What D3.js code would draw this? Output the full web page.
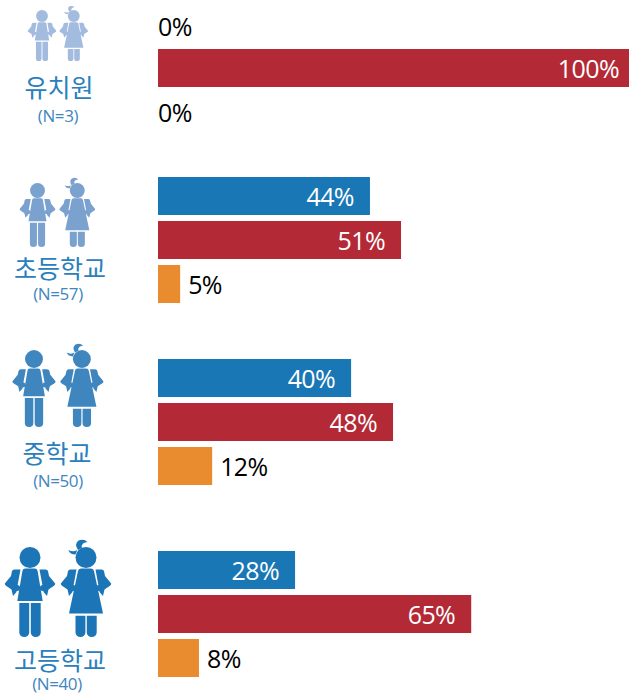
<!DOCTYPE html>
<meta charset="utf-8">
<title>School levels</title>
<style>
html, body { margin: 0; background: #fff; }
svg { display: block; }
.name { font-family: "Noto Sans CJK KR", sans-serif; font-size: 25px; fill: #2a80bd; text-anchor: middle; }
.count { font-family: "Open Sans", sans-serif; font-size: 17px; fill: #3f86bf; text-anchor: middle; letter-spacing: -0.4px; }
.value { font-family: "Open Sans", sans-serif; font-size: 25px; letter-spacing: -0.6px; }
</style>
<svg width="629" height="693"></svg>
<script src="https://cdn.jsdelivr.net/npm/d3@7"></script>
<script>

var groups = ["유치원", "초등학교", "중학교", "고등학교"];
var counts = ["(N=3)", "(N=57)", "(N=50)", "(N=40)"];

// printed percentages
var blueLabels = [0, 44, 40, 28];
var redLabels = [100, 51, 48, 65];
var orangeLabels = [0, 5, 12, 8];

// bar lengths as drawn, they run a little off the printed numbers
var blueLengths = [0, 45, 41, 29.1];
var redLengths = [100, 51.6, 49.9, 66.5];
var orangeLengths = [0, 4.7, 11.5, 8.7];

var seriesLabels = [blueLabels, redLabels, orangeLabels];
var seriesLengths = [blueLengths, redLengths, orangeLengths];
var seriesColors = ["#1a77b5", "#b42936", "#e98c2f"];

// layout
var groupTops = [5, 177, 359, 551];
var iconX = [42, 37.5, 34, 30];
var iconY = [10, 183, 350, 547];
var iconScale = [0.567, 0.71, 0.855, 1];
var iconColor = ["#a3bbdf", "#7ba1cf", "#3f86bf", "#1b75b6"];
var nameX = [59, 60, 57, 60];
var nameY = [97, 278, 463, 670];
var countX = [58, 58, 58, 57];
var countY = [122, 300, 487, 690];

var svg = d3.select("svg");

var x = d3.scaleLinear().domain([0, 100]).range([158, 629]);
var groupY = d3.scaleOrdinal().domain(groups).range(groupTops);
var rowY = d3.scalePoint().domain([0, 1, 2]).range([0, 88]);

var rows = [];
groups.forEach(function(g, i) {
  seriesLabels.forEach(function(s, j) {
    rows.push({group: g, series: j, label: s[i], length: seriesLengths[j][i]});
  });
});

var rowG = svg.selectAll(".row")
    .data(rows)
  .enter().append("g")
    .attr("class", "row")
    .attr("transform", function(d) { return "translate(0," + (groupY(d.group) + rowY(d.series)) + ")"; });

rowG.filter(function(d) { return d.length > 0; }).append("rect")
    .attr("x", x(0))
    .attr("width", function(d) { return x(d.length) - x(0); })
    .attr("height", 38)
    .attr("fill", function(d) { return seriesColors[d.series]; });

// long bars carry the label inside in white, short ones beside the bar in black
rowG.append("text")
    .attr("class", "value")
    .attr("y", function(d) { return d.label == 0 && d.series == 0 ? 31 : 29; })
    .attr("x", function(d) {
      if (d.label == 100) return 619;
      if (d.label == 0) return x(0);
      return d.label > 20 ? x(d.length) - 16 : x(d.length) + 8;
    })
    .attr("text-anchor", function(d) { return d.label > 20 ? "end" : "start"; })
    .attr("fill", function(d) { return d.label > 20 ? "#fff" : "#000"; })
    .text(function(d) { return d.label + "%"; });

// figures drawn with origin at the top centre of the boy
var torso = "M-5,21.5 L5,21.5 Q7.3,21.5 7.6,24 L12.7,54 L-12.7,54 L-7.6,24 Q-7.3,21.5 -5,21.5Z";
var arm = "M-9.5,22.5 L-15.5,22.5 Q-18,22.5 -18.3,25.5 L-19,29 L-25.2,36.5 Q-25.2,38 -24,38.8 L-18.5,42.5 L-17,49 L-13.5,45 L-12.2,37 Z";
var legs = "M-10.7,56 L-0.8,56 L-0.8,85.5 A4.95,4.6 0 0 1 -10.7,85.5Z M0.8,56 L10.7,56 L10.7,85.5 A4.95,4.6 0 0 1 0.8,85.5Z";
var dress = "M-5,21.5 L5,21.5 Q7.6,21.5 8,24 L17,66.5 L-17,66.5 L-8,24 Q-7.6,21.5 -5,21.5Z";
var girlLegs = "M-10.5,68.8 L-0.6,68.8 L-0.6,85.5 A4.95,4.6 0 0 1 -10.5,85.5Z M0.8,68.8 L10.7,68.8 L10.7,85.5 A4.95,4.6 0 0 1 0.8,85.5Z";
var bun = "M-8,3 Q-12,-3 -7.5,-6.5 Q-2,-8.5 1.5,-5 Q-1,-5 -3,-3.5 Q-5,-1.5 -4,1Z M-8.7,3 Q-13,5.5 -17.7,3 Q-16,7.5 -10.5,7.5Z";

function drawHands(sel) {
  sel.append("circle").attr("cx", -12.8).attr("cy", 41).attr("r", 2.9);
  sel.append("circle").attr("cx", 12.8).attr("cy", 41).attr("r", 2.9);
}

var icon = svg.selectAll(".icon")
    .data(groups)
  .enter().append("g")
    .attr("class", "icon")
    .attr("fill", function(d, i) { return iconColor[i]; })
    .attr("transform", function(d, i) { return "translate(" + iconX[i] + "," + iconY[i] + ") scale(" + iconScale[i] + ")"; });

icon.append("circle").attr("cy", 10.5).attr("r", 10.5);
icon.append("path").attr("d", torso);
icon.append("path").attr("d", arm);
icon.append("path").attr("d", arm).attr("transform", "scale(-1,1)");
icon.append("path").attr("d", legs);
drawHands(icon);

var girl = icon.append("g").attr("transform", "translate(56,0)");
girl.append("circle").attr("cy", 10.5).attr("r", 10.5);
girl.append("path").attr("d", bun);
girl.append("path").attr("d", dress);
girl.append("path").attr("d", arm);
girl.append("path").attr("d", arm).attr("transform", "scale(-1,1)");
girl.append("path").attr("d", girlLegs);
drawHands(girl);

svg.selectAll(".name")
    .data(groups)
  .enter().append("text")
    .attr("class", "name")
    .attr("x", function(d, i) { return nameX[i]; })
    .attr("y", function(d, i) { return nameY[i]; })
    .text(function(d) { return d; });

svg.selectAll(".count")
    .data(counts)
  .enter().append("text")
    .attr("class", "count")
    .attr("x", function(d, i) { return countX[i]; })
    .attr("y", function(d, i) { return countY[i]; })
    .text(function(d) { return d; });

</script>
